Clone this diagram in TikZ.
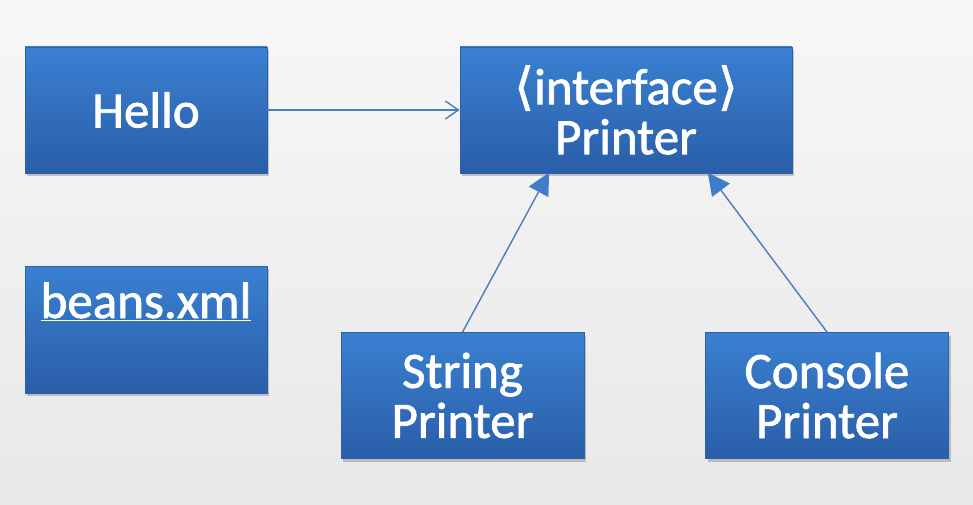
\documentclass[tikz,border=0pt]{standalone}
\usepackage{fontspec}
\setmainfont{Carlito}
\newfontfamily\boxfont{Carlito}[RawFeature={embolden=1.4}]
\newfontfamily\djv{DejaVu Sans}[RawFeature={embolden=1.2}]
\usetikzlibrary{arrows.meta,shadows,calc}
\definecolor{bgtop}{HTML}{F7F7F7}
\definecolor{bgbot}{HTML}{E8E8E8}
\definecolor{boxtop}{HTML}{3A80D2}
\definecolor{boxbot}{HTML}{2A5EA8}
\definecolor{boxedge}{HTML}{2C61A8}
\definecolor{linecol}{HTML}{4A7CC0}
\definecolor{headcol}{HTML}{3D7DCB}
\tikzset{
  umlbox/.style={draw=boxedge, line width=0.8pt, top color=boxtop, bottom color=boxbot,
    text=white, align=center, inner sep=0pt,
    font=\boxfont\fontsize{51}{50}\selectfont,
    drop shadow={shadow xshift=2pt, shadow yshift=-3pt, opacity=0.35, fill=black!60}},
  lbl/.style={text=white, inner sep=0pt, font=\boxfont\fontsize{51}{50}\selectfont},
  assoc/.style={draw=linecol, line width=1.4pt, -{Straight Barb[length=13pt,width=18pt,line width=1.4pt]}},
  inh/.style={draw=linecol, line width=1.4pt, -{Triangle[length=22pt,width=22pt,fill=headcol]}, shorten >=-1pt}
}
\begin{document}
\begin{tikzpicture}[x=1pt,y=-1pt]
\useasboundingbox (0,0) rectangle (973,505);
\shade[top color=bgtop, bottom color=bgbot] (0,0) rectangle (973,505);
\node[umlbox, minimum width=242pt, minimum height=126pt] (hello) at (146,110) {Hello};
\node[umlbox, minimum width=332pt, minimum height=126pt] (printer) at (626,110) {{\djv ⟨}interface{\djv ⟩}\\Printer};
\node[umlbox, minimum width=242pt, minimum height=127pt] (beans) at (146,329.5) {};
\node[lbl, anchor=base] (beanstxt) at (146,318) {\underline{beans.xml}};
\node[umlbox, minimum width=243pt, minimum height=126pt] (string) at (462.5,395.5) {String\\Printer};
\node[umlbox, minimum width=243pt, minimum height=126pt] (console) at (827,395.5) {Console\\Printer};
\coordinate (pa) at ($(printer.south west)+(89,0)$);
\coordinate (pb) at ($(printer.south east)+(-84,0)$);
\draw[assoc] (hello.east) -- (printer.west);
\draw[inh] (string.north) -- (pa);
\draw[inh] (console.north) -- (pb);
\end{tikzpicture}
\end{document}
